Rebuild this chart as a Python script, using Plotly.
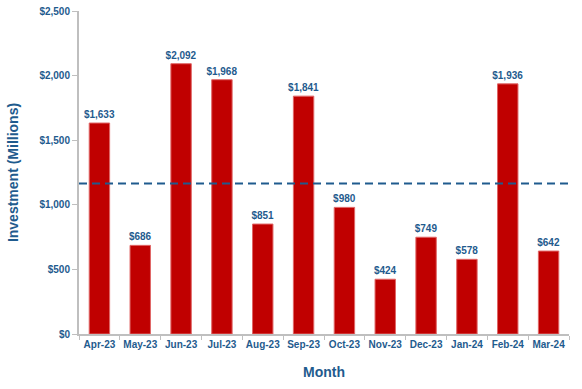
import plotly.graph_objects as go

months = ["Apr-23", "May-23", "Jun-23", "Jul-23", "Aug-23", "Sep-23",
          "Oct-23", "Nov-23", "Dec-23", "Jan-24", "Feb-24", "Mar-24"]
investment = [1633, 686, 2092, 1968, 851, 1841, 980, 424, 749, 578, 1936, 642]
reference_level = 1165
y_ticks = [0, 500, 1000, 1500, 2000, 2500]
y_tick_labels = ["$0", "$500", "$1,000", "$1,500", "$2,000", "$2,500"]

blue = "#1F5B8E"
red = "#C00000"
font_family = "Liberation Sans, Arial, sans-serif"

fig = go.Figure()
fig.add_trace(go.Bar(
    x=months, y=investment,
    marker=dict(color=red, line=dict(color="#E06666", width=1)),
    text=[f"${v:,}" for v in investment],
    textposition="outside",
    constraintext="none",
    textfont=dict(family=font_family, size=10, color=blue, weight="bold"),
    cliponaxis=False,
    hoverinfo="skip",
))
fig.add_shape(type="line", xref="paper", yref="y", x0=0, x1=1.006,
              y0=reference_level, y1=reference_level,
              line=dict(color=blue, width=2, dash="8px,5px"))

fig.update_layout(
    width=582, height=389,
    margin=dict(l=79, r=13, t=11, b=55),
    paper_bgcolor="white", plot_bgcolor="white",
    showlegend=False,
    bargap=0.5,
    font=dict(family=font_family, color=blue),
    xaxis=dict(
        title=dict(text="Month", font=dict(size=14, color=blue, weight="bold"), standoff=18),
        tickfont=dict(size=10, color=blue, weight="bold"),
        tickangle=0, automargin=False,
        showline=True, linecolor="#BFBFBF", linewidth=2,
        ticks="outside", tickson="boundaries", ticklen=4, tickcolor="#BFBFBF",
        showgrid=False,
    ),
    yaxis=dict(
        title=dict(text="Investment (Millions)", font=dict(size=14, color=blue, weight="bold"), standoff=18),
        range=[0, 2500], automargin=False,
        tickvals=y_ticks, ticktext=y_tick_labels,
        tickfont=dict(size=10, color=blue, weight="bold"),
        showline=True, linecolor="#BFBFBF", linewidth=2,
        ticks="outside", ticklen=5, tickcolor="#BFBFBF",
        showgrid=False, zeroline=False,
    ),
)

fig.write_html("out.html", config={"displayModeBar": False},
               post_script="document.body.style.margin='0';")
